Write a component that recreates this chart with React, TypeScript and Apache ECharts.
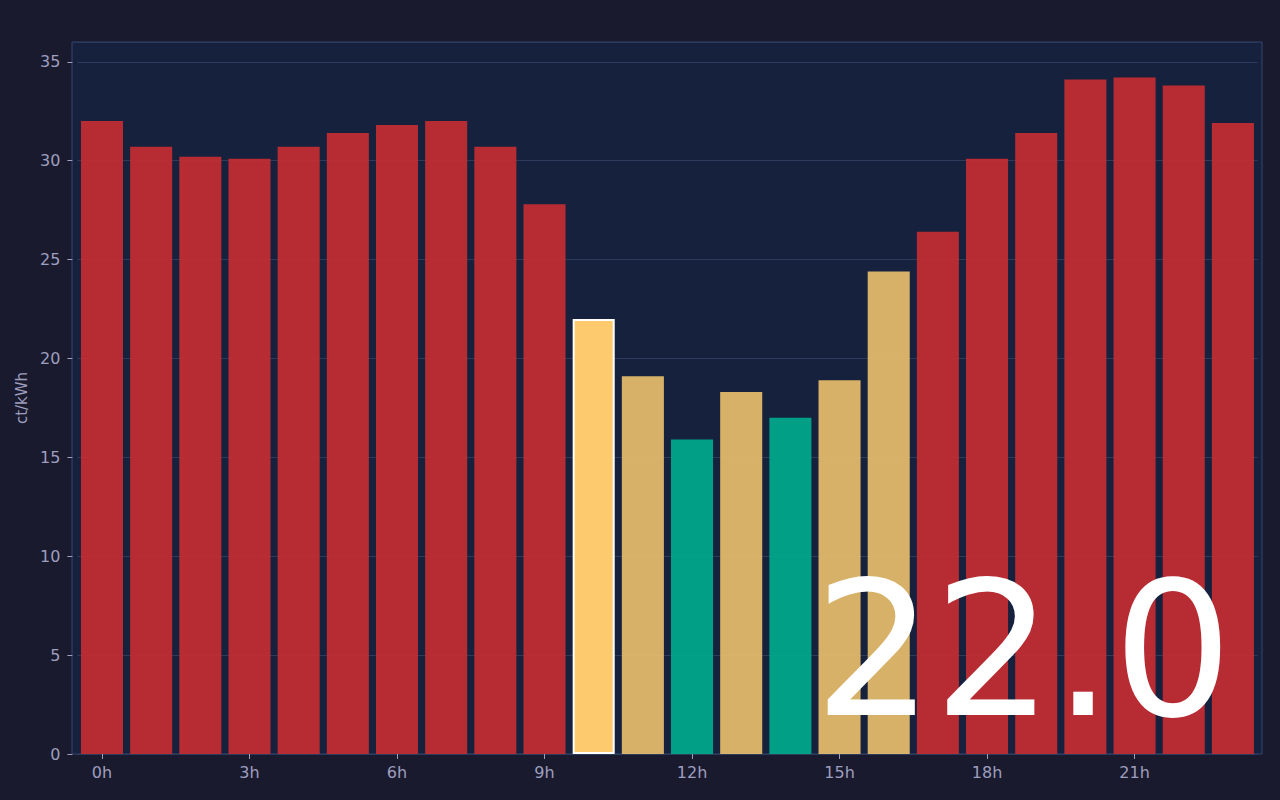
import React, { useEffect, useRef } from "react";
import * as echarts from "echarts";

const hours: string[] = Array.from({ length: 24 }, (_, i) => `${i}h`);
const prices: number[] = [
  32.0, 30.7, 30.2, 30.1, 30.7, 31.4, 31.8, 32.0, 30.7, 27.8, 22.0, 19.1,
  15.9, 18.3, 17.0, 18.9, 24.4, 26.4, 30.1, 31.4, 34.1, 34.2, 33.8, 31.9,
];
const currentHour = 10;
const currentLabel = "22.0";
const yTicks = { min: 0, max: 36, interval: 5 };

const RED = "#c62e32";
const GOLD = "#e9be6c";
const TEAL = "#00ab8c";
const HIGHLIGHT = "#fdca6e";

function colorFor(v: number): string {
  if (v < 18) return TEAL;
  if (v < 25) return GOLD;
  return RED;
}

export default function App() {
  const ref = useRef<HTMLDivElement>(null);
  useEffect(() => {
    if (!ref.current) return;
    const chart = echarts.init(ref.current, undefined, { renderer: "svg" });
    const data = prices.map((v, i) =>
      i === currentHour
        ? {
            value: v,
            itemStyle: { color: HIGHLIGHT, opacity: 1, borderColor: "#ffffff", borderWidth: 2 },
          }
        : { value: v, itemStyle: { color: colorFor(v), opacity: 0.92 } }
    );
    chart.setOption({
      animation: false,
      backgroundColor: "#1a1a2e",
      textStyle: { fontFamily: "DejaVu Sans" },
      grid: { left: 77.4, right: 22.5, top: 42, bottom: 46 },
      graphic: [
        {
          type: "rect",
          z: -10,
          shape: { x: 72, y: 42, width: 1190, height: 712 },
          style: { fill: "#16213e", stroke: "#33476e", lineWidth: 1 },
        },
        {
          type: "text",
          z: 100,
          x: 814,
          y: 649,
          style: {
            text: currentLabel,
            fill: "#ffffff",
            fontSize: 188,
            fontFamily: "DejaVu Sans",
            textAlign: "left",
            textVerticalAlign: "middle",
          },
        },
      ],
      xAxis: {
        type: "category",
        data: hours,
        axisLine: { show: false },
        axisTick: {
          show: true,
          alignWithLabel: true,
          interval: 2,
          length: 5,
          lineStyle: { color: "#9e9ebe" },
        },
        axisLabel: { interval: 2, color: "#9e9ebe", fontSize: 16, margin: 10 },
      },
      yAxis: {
        type: "value",
        min: yTicks.min,
        max: yTicks.max,
        interval: yTicks.interval,
        offset: 5,
        name: "ct/kWh",
        nameLocation: "middle",
        nameGap: 34,
        nameTextStyle: { color: "#9e9ebe", fontSize: 15 },
        axisLine: { show: false },
        axisTick: { show: true, length: 5, lineStyle: { color: "#9e9ebe" } },
        axisLabel: { color: "#9e9ebe", fontSize: 16, margin: 12, showMaxLabel: false },
        splitLine: { lineStyle: { color: "#2c3a5c", width: 1 } },
      },
      series: [
        {
          type: "bar",
          data,
          barWidth: "85.5%",
        },
      ],
    });
    return () => chart.dispose();
  }, []);
  return <div ref={ref} style={{ width: 1280, height: 800, position: "absolute", left: 0, top: 0 }} />;
}
